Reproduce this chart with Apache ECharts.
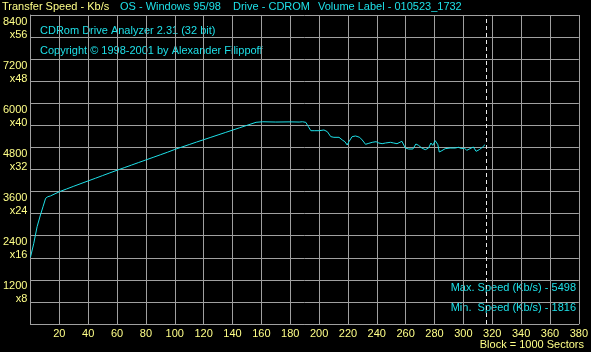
<!DOCTYPE html>
<html><head><meta charset="utf-8">
<script src="https://cdn.jsdelivr.net/npm/echarts@6/dist/echarts.min.js"></script>
<style>html,body{margin:0;padding:0;background:#000}#c{width:591px;height:352px}</style>
</head><body><div id="c"></div>
<script>
const blocks = [0,2.3,4.6,6.9,8.7,10.5,12,13.8,17,20.7,25,30,35,40,45,50,55,60,65,70,75,80,85,90,95,100,105,110,115,120,125,130,135,140,145,150,156.3,160.9,170,180,186.2,188.5,190.8,192.6,194.3,196.6,197.7,200,203.4,205.7,208.1,210.3,213.8,216.1,217.9,219.5,220.7,222.9,225.3,228.1,229.9,232.2,234.5,236.8,239.5,241.4,243.7,246,249.4,251.7,254,257.4,258.6,259.8,262.1,265,267.1,268.9,271.2,273.6,275.9,277.5,278.8,280.5,281.6,282.3,283.3,285.1,287.4,290.8,294.3,296.6,298.9,300.7,302.3,304.6,306.9,308.8,311,313.1,315];
const speeds = [1816,2194,2645,2963,3189,3417,3460,3480,3540,3607,3670,3745,3818,3890,3962,4035,4108,4180,4250,4320,4390,4460,4530,4600,4670,4745,4812,4878,4945,5010,5075,5140,5205,5270,5335,5400,5483,5498,5490,5495,5490,5498,5482,5364,5255,5255,5274,5255,5274,5229,5093,5075,5075,5002,4956,4866,4956,5093,5111,5075,5002,4885,4912,4939,4956,4920,4902,4920,4939,4920,4902,4966,4920,4784,4757,4757,4893,4857,4784,4739,4784,4920,4857,4984,5011,4875,4676,4712,4766,4784,4784,4803,4766,4784,4721,4766,4812,4694,4739,4803,4875];
const endMarker = 316;
const yLabelValues = [1200,2400,3600,4800,6000,7200,8400];
const headerTexts = ["Transfer Speed - Kb/s","OS - Windows 95/98","Drive - CDROM","Volume Label - 010523_1732"];
const infoTexts = ["CDRom Drive Analyzer 2.31 (32 bit)","Copyright \u00a9 1998-2001 by Alexander Filippoff"];
const footerText = "Block = 1000 Sectors";

const YEL = '#ffff88', CY = '#1ee0e8', GRID = '#a0a0a0';
const FONT = '"Liberation Sans", Arial, sans-serif';
const FS = 11;
const maxV = Math.max(...speeds), minV = Math.min(...speeds);
const chart = echarts.init(document.getElementById('c'), null, {renderer:'canvas'});
const txt = (x,y,t,c,align) => ({type:'text', left: align==='right'?undefined:x, right: align==='right'?x:undefined, top:y,
  style:{text:t, fill:c, font:FS+'px '+FONT}});
chart.setOption({
  backgroundColor:'#000',
  animation:false,
  grid:{left:30, right:10, top:15, bottom:28, containLabel:false},
  xAxis:{type:'value', min:0, max:380, interval:20,
    axisLine:{show:true, lineStyle:{color:GRID}}, axisTick:{show:false},
    splitLine:{show:true, lineStyle:{color:GRID, width:1}},
    axisLabel:{color:YEL, fontFamily:FONT, fontSize:FS, margin:4,
      formatter:v=> v===0 ? '' : String(v)}},
  yAxis:{type:'value', min:0, max:8400, interval:600,
    axisLine:{show:true, lineStyle:{color:GRID}}, axisTick:{show:false},
    splitLine:{show:true, lineStyle:{color:GRID, width:1}},
    axisLabel:{color:YEL, fontFamily:FONT, fontSize:FS, margin:3, lineHeight:13, align:'right', verticalAlign:'top',
      formatter:v=> yLabelValues.includes(v) ? v + '\nx' + (v/150) : ''}},
  series:[{type:'line', data: blocks.map((b,i)=>[b, speeds[i]]), showSymbol:false, symbol:'none',
    lineStyle:{color:CY, width:1}, smooth:false,
    markLine:{silent:true, symbol:'none', label:{show:false},
      lineStyle:{color:'#e8e8e8', type:[4,3], width:1},
      data:[{xAxis:endMarker}]}}],
  graphic:[
    txt(2,1,headerTexts[0],YEL),
    txt(120,1,headerTexts[1],CY),
    txt(233,1,headerTexts[2],CY),
    txt(318,1,headerTexts[3],CY),
    txt(40,25,infoTexts[0],CY),
    txt(40,45,infoTexts[1],CY),
    txt(15,282,'Max. Speed (Kb/s) - ' + maxV,CY,'right'),
    txt(15,302,'Min.  Speed (Kb/s) - ' + minV,CY,'right'),
    txt(7,339,footerText,YEL,'right')
  ]
});
</script></body></html>
